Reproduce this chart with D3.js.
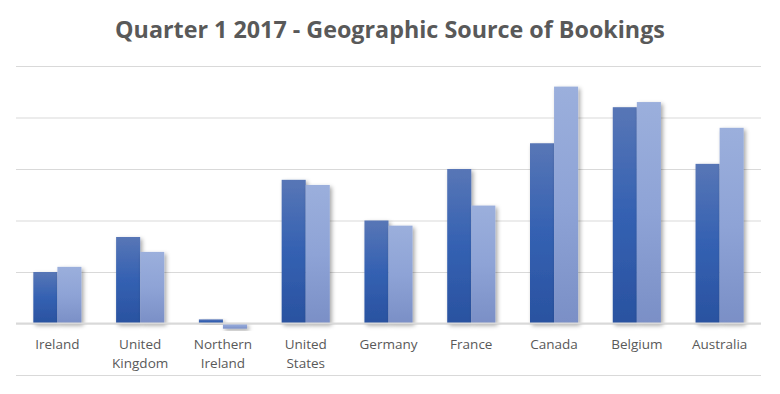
<!DOCTYPE html>
<html>
<head>
<meta charset="utf-8">
<script src="https://cdn.jsdelivr.net/npm/d3@7"></script>
<style>
  body { margin: 0; background: #fff; }
  .chart text { font-family: "Open Sans", "Liberation Sans", sans-serif; fill: #595959; }
</style>
</head>
<body>
<div class="chart"></div>
<script>
// Data (one gridline = 10 units)
const countries = ["Ireland", "United Kingdom", "Northern Ireland", "United States",
    "Germany", "France", "Canada", "Belgium", "Australia"];
const labelLines = [["Ireland"], ["United", "Kingdom"], ["Northern", "Ireland"], ["United", "States"],
    ["Germany"], ["France"], ["Canada"], ["Belgium"], ["Australia"]];
const series1 = [10, 16.8, 0.8, 27.9, 20, 30, 35, 42, 31];
const series2 = [11, 13.9, -1, 26.9, 19, 22.9, 46, 43, 38];
const gridTicks = [-10, 0, 10, 20, 30, 40, 50];

const svgWidth = 780, svgHeight = 394;
const margin = { top: 66, right: 19, bottom: 19, left: 16 };
const width = svgWidth - margin.left - margin.right;
const height = svgHeight - margin.top - margin.bottom;

const svg = d3.select(".chart")
    .append("svg")
    .attr("width", svgWidth)
    .attr("height", svgHeight);

const defs = svg.append("defs");

function grad(id, stops) {
    const g = defs.append("linearGradient")
        .attr("id", id)
        .attr("x1", 0).attr("y1", 0).attr("x2", 0).attr("y2", 1);
    stops.forEach(s => g.append("stop").attr("offset", s[0]).attr("stop-color", s[1]));
}
grad("g1", [[0, "#5876b6"], [0.5, "#3461b2"], [1, "#2a52a0"]]);
grad("g2", [[0, "#9bafdc"], [0.5, "#8ea3d6"], [1, "#7a8fc6"]]);

defs.append("filter")
    .attr("id", "shadow")
    .attr("x", "-20%").attr("y", "-20%").attr("width", "150%").attr("height", "150%")
    .append("feDropShadow")
    .attr("dx", 2).attr("dy", 2).attr("stdDeviation", 2)
    .attr("flood-color", "#000").attr("flood-opacity", 0.35);

// title
svg.append("text")
    .attr("x", 390)
    .attr("y", 38)
    .attr("text-anchor", "middle")
    .style("font-size", "23.3px")
    .style("font-weight", "bold")
    .text("Quarter 1 2017 - Geographic Source of Bookings");

const chartGroup = svg.append("g")
    .attr("transform", `translate(${margin.left}, ${margin.top})`);

// scales
const x0 = d3.scaleBand()
    .domain(countries)
    .range([0, width])
    .paddingInner(0)
    .paddingOuter(0);

const x1 = d3.scaleBand()
    .domain([0, 1])
    .range([0, x0.bandwidth()])
    .paddingInner(0)
    .paddingOuter(0.72);

const y = d3.scaleLinear()
    .domain([-10, 50])
    .range([height, 0]);

// gridlines
chartGroup.append("g")
    .attr("class", "grid")
    .call(d3.axisLeft(y).tickValues(gridTicks).tickSize(-width).tickFormat(""))
    .call(g => g.select(".domain").remove())
    .call(g => g.selectAll("line").attr("stroke", "#d9d9d9"));

// bars
const groups = chartGroup.selectAll(".country")
    .data(countries.map((c, i) => ({ c, vals: [series1[i], series2[i]] })))
    .enter()
    .append("g")
    .attr("transform", d => `translate(${x0(d.c)}, 0)`);

groups.selectAll("rect")
    .data(d => d.vals.map((v, k) => ({ k, v })))
    .enter()
    .append("rect")
    .attr("x", d => x1(d.k))
    .attr("width", x1.bandwidth())
    .attr("y", d => y(Math.max(0, d.v)))
    .attr("height", d => Math.abs(y(d.v) - y(0)))
    .attr("fill", d => d.k === 0 ? "url(#g1)" : "url(#g2)")
    .attr("filter", "url(#shadow)");

// zero axis
chartGroup.append("line")
    .attr("x1", 0).attr("x2", width)
    .attr("y1", y(0)).attr("y2", y(0))
    .attr("stroke", "#d9d9d9")
    .attr("stroke-width", 2);

// category labels
const xAxis = d3.axisBottom(x0).tickSize(0).tickFormat("");
const ax = chartGroup.append("g")
    .attr("transform", `translate(0, ${y(0)})`)
    .call(xAxis);
ax.select(".domain").remove();
ax.selectAll(".tick").each(function(d, i) {
    const t = d3.select(this).append("text")
        .attr("text-anchor", "middle")
        .attr("y", 25)
        .style("font-size", "13.5px");
    labelLines[i].forEach((line, j) => {
        t.append("tspan").attr("x", 0).attr("dy", j === 0 ? 0 : 19).text(line);
    });
});
</script>
</body>
</html>
